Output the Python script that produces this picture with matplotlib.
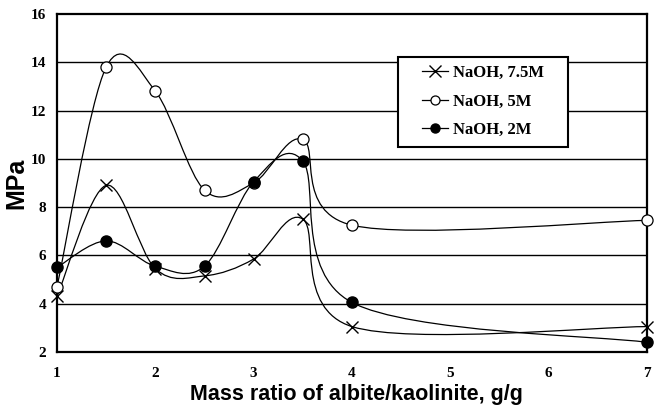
import matplotlib
matplotlib.use("Agg")
import matplotlib.pyplot as plt
from matplotlib.path import Path
from matplotlib.patches import PathPatch, Rectangle
from matplotlib.lines import Line2D

# mass ratio albite/kaolinite (g/g) and strength (MPa)
ratio = [1, 1.5, 2, 2.5, 3, 3.5, 4, 7]
naoh_75 = [4.3, 8.9, 5.45, 5.15, 5.85, 7.5, 3.05, 3.05]
naoh_5 = [4.7, 13.8, 12.8, 8.7, 9.0, 10.8, 7.25, 7.45]
naoh_2 = [5.5, 6.6, 5.55, 5.55, 9.05, 9.9, 4.05, 2.4]
labels = ["NaOH, 7.5M", "NaOH, 5M", "NaOH, 2M"]

SERIF = "Liberation Serif"
SANS = "Liberation Sans"


def smooth_path(xs, ys):
    """Excel-like smoothed line: cubic Bezier through the points (Catmull-Rom)."""
    n = len(xs)
    verts = [(xs[0], ys[0])]
    codes = [Path.MOVETO]
    for i in range(n - 1):
        i0 = max(i - 1, 0)
        i3 = min(i + 2, n - 1)
        c1 = (xs[i] + (xs[i + 1] - xs[i0]) / 6, ys[i] + (ys[i + 1] - ys[i0]) / 6)
        c2 = (xs[i + 1] - (xs[i3] - xs[i]) / 6, ys[i + 1] - (ys[i3] - ys[i]) / 6)
        verts += [c1, c2, (xs[i + 1], ys[i + 1])]
        codes += [Path.CURVE4] * 3
    return Path(verts, codes)


fig = plt.figure(figsize=(6.54, 4.05), dpi=100)
ax = fig.add_axes([0.0872, 0.131, 0.902, 0.8346])

styles = [
    dict(marker="x", markersize=9, markeredgewidth=1.0, color="black"),
    dict(marker="o", markersize=8, markerfacecolor="white", markeredgecolor="black",
         markeredgewidth=0.9, color="black"),
    dict(marker="o", markersize=8, markerfacecolor="black", markeredgecolor="black",
         color="black"),
]

for ys, st in zip([naoh_75, naoh_5, naoh_2], styles):
    ax.add_patch(PathPatch(smooth_path(ratio, ys), facecolor="none",
                           edgecolor="black", lw=0.9, zorder=2))
    ax.plot(ratio, ys, linestyle="none", zorder=3, clip_on=False, **st)

ax.set_xlim(1, 7)
ax.set_ylim(2, 16)
ax.set_yticks(range(2, 17, 2))
ax.set_xticks(range(1, 8))
for y in range(4, 16, 2):
    ax.axhline(y, color="black", lw=1.0, zorder=1)

for sp in ax.spines.values():
    sp.set_linewidth(1.6)

ax.tick_params(axis="both", length=0)
ax.tick_params(axis="x", pad=11)
ax.tick_params(axis="y", pad=8)
for lab in ax.get_xticklabels() + ax.get_yticklabels():
    lab.set_fontfamily(SERIF)
    lab.set_fontweight("bold")
    lab.set_fontsize(11)

ax.set_xlabel("Mass ratio of albite/kaolinite, g/g", fontfamily=SANS,
              fontweight="bold", fontsize=15.5, va="baseline")
ax.xaxis.set_label_coords(0.508, -0.142)
ax.set_ylabel("MPa", fontfamily=SANS, fontweight="bold", fontsize=18)
ax.yaxis.set_label_coords(-0.049, 0.5)

# legend box (wider than matplotlib's own frame would be)
ax.add_patch(Rectangle((0.578, 0.6065), 0.288, 0.2665, transform=ax.transAxes,
                       facecolor="white", edgecolor="black", lw=1.5, zorder=4))
handles = [Line2D([], [], lw=0.9, **st) for st in styles]
handles[0].set_markersize(8)
handles[1].set_markersize(6.5)
handles[2].set_markersize(6.5)
leg = ax.legend(handles, labels, loc="center", bbox_to_anchor=(0.722, 0.740),
                borderaxespad=0, frameon=False, handlelength=1.6,
                handletextpad=0.3, labelspacing=0.75, borderpad=0.3,
                prop=dict(family=SERIF, weight="bold", size=12))
leg.set_zorder(5)

fig.savefig("out.png", dpi=100)
